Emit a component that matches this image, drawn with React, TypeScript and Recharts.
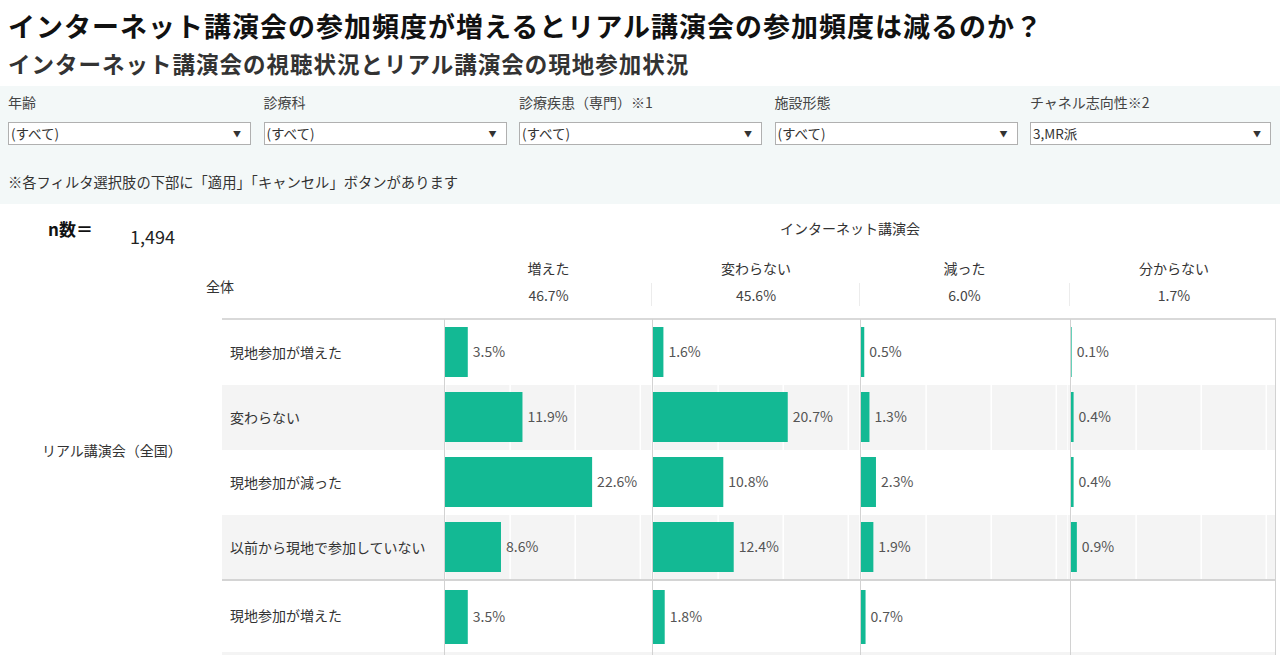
import React from 'react';
import { BarChart, Bar, XAxis, YAxis, CartesianGrid, LabelList } from 'recharts';

const FONT = '"Noto Sans CJK JP", "Noto Sans", sans-serif';

// ---- data ----
const title = 'インターネット講演会の参加頻度が増えるとリアル講演会の参加頻度は減るのか？';
const subtitle = 'インターネット講演会の視聴状況とリアル講演会の現地参加状況';
const filterLabels = ['年齢', '診療科', '診療疾患（専門）※1', '施設形態', 'チャネル志向性※2'];
const filterValues = ['(すべて)', '(すべて)', '(すべて)', '(すべて)', '3,MR派'];
const filterNote = '※各フィルタ選択肢の下部に「適用」「キャンセル」ボタンがあります';
const sampleSize = '1,494';
const internetCategories = ['増えた', '変わらない', '減った', '分からない'];
const internetTotals = [46.7, 45.6, 6.0, 1.7];
const realCategories = ['現地参加が増えた', '変わらない', '現地参加が減った', '以前から現地で参加していない'];
const nationalIncreased = [3.5, 11.9, 22.6, 8.6];
const nationalSame = [1.6, 20.7, 10.8, 12.4];
const nationalDecreased = [0.5, 1.3, 2.3, 1.9];
const nationalUnknown = [0.1, 0.4, 0.4, 0.9];
const group2Categories = ['現地参加が増えた'];
const group2Values = [3.5, 1.8, 0.7, null];

const nationalByPanel = [nationalIncreased, nationalSame, nationalDecreased, nationalUnknown];

// ---- layout ----
const PANEL_LEFTS = [445, 652.5, 861, 1070.5];
const PANEL_W = 207;
const ROW_H = 65;
const TOP = 320;
const G2_TOP = 582;
const G2_H = 70;
const TEAL = '#13b994';
const DOMAIN: [number, number] = [0, 31.8];
const FS = 14;

const fmt = (v: any) => (v == null ? '' : `${Number(v).toFixed(1)}%`);

function PanelChart({ data, height, barSize }: { data: { cat: string; v: number | null }[]; height: number; barSize: number }) {
  return (
    <BarChart
      layout="vertical"
      width={PANEL_W}
      height={height}
      data={data}
      margin={{ top: 0, right: 0, bottom: 0, left: 0 }}
    >
      <CartesianGrid horizontal={false} vertical stroke="#ffffff" strokeWidth={1.5} />
      <XAxis type="number" domain={DOMAIN} ticks={[0, 10, 20, 30]} hide />
      <YAxis type="category" dataKey="cat" hide />
      <Bar dataKey="v" fill={TEAL} barSize={barSize} isAnimationActive={false}>
        <LabelList
          dataKey="v"
          position="right"
          offset={5}
          formatter={fmt}
          style={{ fill: '#555', fontSize: FS, fontFamily: FONT }}
        />
      </Bar>
    </BarChart>
  );
}

const abs = (s: React.CSSProperties): React.CSSProperties => ({ position: 'absolute', ...s });

export default function App() {
  return (
    <div style={abs({ left: 0, top: 0, width: 1280, height: 655, overflow: 'hidden', background: '#fff', fontFamily: FONT, color: '#222' })}>
      {/* titles */}
      <div style={abs({ left: 8, top: 11, fontSize: 27, fontWeight: 700, whiteSpace: 'nowrap', lineHeight: '30px', letterSpacing: 1, color: '#111' })}>{title}</div>
      <div style={abs({ left: 8, top: 49.5, fontSize: 22.5, fontWeight: 700, whiteSpace: 'nowrap', lineHeight: '26px', letterSpacing: 1, color: '#333' })}>{subtitle}</div>

      {/* filter panel */}
      <div style={abs({ left: 0, top: 86, width: 1280, height: 118, background: '#f3f8f8' })} />
      {filterLabels.map((l, i) => (
        <div key={'fl' + i} style={abs({ left: 8 + i * 255.5, top: 92, fontSize: FS, color: '#444', whiteSpace: 'nowrap', lineHeight: '20px' })}>{l}</div>
      ))}
      {filterValues.map((v, i) => (
        <div key={'fv' + i} style={abs({ left: 8 + i * 255.5, top: 122, width: i === 4 ? 241 : 243, height: 23, boxSizing: 'border-box', border: '1px solid #b0b0b0', background: '#fff' })}>
          <span style={abs({ left: 2, top: 1, fontSize: 13.5, color: '#333', lineHeight: '19px', whiteSpace: 'nowrap' })}>{v}</span>
          <span style={abs({ right: 9, top: 4, fontSize: 8, color: '#333', lineHeight: '14px' })}>▼</span>
        </div>
      ))}
      <div style={abs({ left: 8, top: 172, fontSize: 14.3, color: '#333', whiteSpace: 'nowrap', lineHeight: '20px' })}>{filterNote}</div>

      {/* n */}
      <div style={abs({ left: 48, top: 217, fontSize: 17, fontWeight: 700, color: '#111', lineHeight: '24px' })}>n数＝</div>
      <div style={abs({ left: 130, top: 224, fontSize: 18, color: '#222', lineHeight: '24px' })}>{sampleSize}</div>

      {/* headers */}
      <div style={abs({ left: 700, width: 300, top: 218, textAlign: 'center', fontSize: FS, color: '#333', lineHeight: '20px' })}>インターネット講演会</div>
      <div style={abs({ left: 206, top: 276, fontSize: FS, color: '#333', lineHeight: '20px' })}>全体</div>
      {internetCategories.map((c, i) => (
        <React.Fragment key={'h' + i}>
          <div style={abs({ left: PANEL_LEFTS[i], width: PANEL_W, top: 258, textAlign: 'center', fontSize: FS, color: '#333', lineHeight: '20px' })}>{c}</div>
          <div style={abs({ left: PANEL_LEFTS[i], width: PANEL_W, top: 285, textAlign: 'center', fontSize: FS, color: '#444', lineHeight: '20px' })}>{internetTotals[i].toFixed(1)}%</div>
          {i > 0 && <div style={abs({ left: PANEL_LEFTS[i] - 2, top: 283, width: 1, height: 23, background: '#ececec' })} />}
        </React.Fragment>
      ))}

      {/* row stripes */}
      {realCategories.map((c, j) => (
        <div key={'s' + j} style={abs({ left: 222, top: TOP + j * ROW_H, width: 1054, height: ROW_H, background: j % 2 === 1 ? '#f4f4f4' : '#fff' })} />
      ))}
      <div style={abs({ left: 222, top: G2_TOP + G2_H, width: 1054, height: 10, background: '#f4f4f4' })} />

      {/* row labels */}
      {realCategories.map((c, j) => (
        <div key={'r' + j} style={abs({ left: 230, top: TOP + j * ROW_H + ROW_H / 2 - 12, fontSize: FS, color: '#333', lineHeight: '22px', whiteSpace: 'nowrap' })}>{c}</div>
      ))}
      {group2Categories.map((c, j) => (
        <div key={'r2' + j} style={abs({ left: 230, top: G2_TOP + G2_H / 2 - 13, fontSize: FS, color: '#333', lineHeight: '22px', whiteSpace: 'nowrap' })}>{c}</div>
      ))}
      <div style={abs({ left: 42, top: 439, fontSize: FS, color: '#333', lineHeight: '22px', whiteSpace: 'nowrap' })}>リアル講演会（全国）</div>

      {/* charts */}
      {internetCategories.map((c, i) => (
        <React.Fragment key={'c' + i}>
          <div style={abs({ left: PANEL_LEFTS[i], top: TOP - 1 })}>
            <PanelChart data={realCategories.map((r, j) => ({ cat: r, v: nationalByPanel[i][j] }))} height={ROW_H * 4} barSize={50} />
          </div>
          <div style={abs({ left: PANEL_LEFTS[i], top: G2_TOP })}>
            <PanelChart data={group2Categories.map((r) => ({ cat: r, v: group2Values[i] }))} height={G2_H} barSize={54} />
          </div>
        </React.Fragment>
      ))}

      {/* table lines */}
      <div style={abs({ left: 222, top: 318, width: 1054, height: 2, background: '#d9d9d9' })} />
      <div style={abs({ left: 222, top: 579, width: 1054, height: 2, background: '#d4d4d4' })} />
      {PANEL_LEFTS.map((x, i) => (
        <div key={'v' + i} style={abs({ left: x - 1, top: 319, width: 1, height: 340, background: '#d2d2d2' })} />
      ))}
      <div style={abs({ left: 1275, top: 319, width: 1, height: 340, background: '#d2d2d2' })} />
    </div>
  );
}
